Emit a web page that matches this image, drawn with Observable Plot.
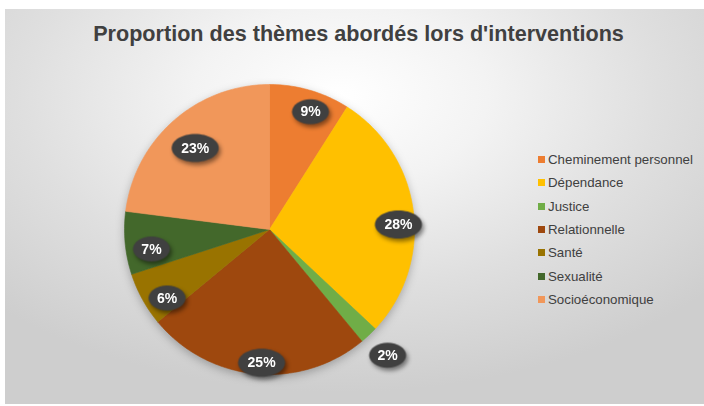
<!DOCTYPE html>
<html>
<head>
<meta charset="utf-8">
<script src="https://cdn.jsdelivr.net/npm/d3@7"></script>
<script src="https://cdn.jsdelivr.net/npm/@observablehq/plot@0.6"></script>
<style>
  html, body { margin: 0; padding: 0; background: #ffffff; overflow: hidden; }
  #root { position: relative; width: 704px; height: 406px; }
  #bg { position: absolute; left: 5px; top: 9px; width: 699px; height: 395px;
        background: radial-gradient(ellipse 70% 75% at 48% 22%, #ffffff 0%, #f3f3f3 30%, #dfdfdf 65%, #cecece 100%); }
  #title { position: absolute; left: 9px; top: 21px; width: 699px; text-align: center;
           font-family: "Liberation Sans", Arial, sans-serif; font-weight: bold; font-size: 21.6px; color: #404040; }
  #pie { position: absolute; left: 69px; top: 29px; }
  #pie svg { overflow: visible; }
  #pie g[aria-label="line"] { filter: drop-shadow(0px 3px 4px rgba(0,0,0,0.25)); }
  #pie g[aria-label="dot"] { filter: drop-shadow(2px 3px 2px rgba(0,0,0,0.45)); }
  #legend { position: absolute; left: 538px; top: 148px; }
  #legend div[class$="-swatch"] { height: 23.3px; padding: 0; display: flex; align-items: center; }
  #legend div[class$="-swatch"] > svg { margin-right: 3px; }
</style>
</head>
<body>
<div id="root">
  <div id="bg"></div>
  <div id="title">Proportion des thèmes abordés lors d'interventions</div>
  <div id="pie"></div>
  <div id="legend"></div>
</div>
<script>
// Data
const themes = ["Cheminement personnel", "Dépendance", "Justice", "Relationnelle", "Santé", "Sexualité", "Socioéconomique"];
const values = [9, 28, 2, 25, 6, 7, 23];
const labels = ["9%", "28%", "2%", "25%", "6%", "7%", "23%"];
const colors = ["#ED7D31", "#FFC000", "#70AD47", "#9E480E", "#997300", "#43682B", "#F1975A"];
// placement of each data callout: fraction of the pie radius, and angular nudge (degrees) from the slice middle
const labelRadius = [0.86, 0.89, 1.19, 0.92, 0.85, 0.825, 0.76];
const labelNudge = [3, 5, 0, -2, -5, -4, -1];

// Slice geometry (angles clockwise from the top)
const total = d3.sum(values);
const slices = [];
let acc = 0;
themes.forEach((t, i) => {
  const a0 = acc / total * 2 * Math.PI;
  acc += values[i];
  const a1 = acc / total * 2 * Math.PI;
  slices.push({theme: t, value: values[i], label: labels[i], a0, a1,
    mid: (a0 + a1) / 2 + labelNudge[i] * Math.PI / 180, lr: labelRadius[i]});
});

const outline = [];
for (const s of slices) {
  outline.push({theme: s.theme, x: 0, y: 0});
  const n = Math.max(2, Math.ceil((s.a1 - s.a0) / (Math.PI / 180)));
  for (let k = 0; k <= n; ++k) {
    const a = s.a0 + (s.a1 - s.a0) * k / n;
    outline.push({theme: s.theme, x: Math.sin(a), y: Math.cos(a)});
  }
  outline.push({theme: s.theme, x: 0, y: 0});
}

const labelPts = slices.map(s => ({
  label: s.label,
  x: s.lr * Math.sin(s.mid),
  y: s.lr * Math.cos(s.mid),
  kind: s.label.length > 2 ? "wide" : "narrow"
}));

function ellipseSymbol(rx, ry) {
  const k = 0.5522847;
  return {
    draw(ctx) {
      ctx.moveTo(rx, 0);
      ctx.bezierCurveTo(rx, ry * k, rx * k, ry, 0, ry);
      ctx.bezierCurveTo(-rx * k, ry, -rx, ry * k, -rx, 0);
      ctx.bezierCurveTo(-rx, -ry * k, -rx * k, -ry, 0, -ry);
      ctx.bezierCurveTo(rx * k, -ry, rx, -ry * k, rx, 0);
      ctx.closePath();
    }
  };
}

const R = 145;      // pie radius in px
const S = 400;      // svg size
const dom = S / 2 / R;

const pie = Plot.plot({
  width: S, height: S, margin: 0,
  x: {domain: [-dom, dom], axis: null},
  y: {domain: [-dom, dom], axis: null},
  color: {domain: themes, range: colors},
  symbol: {domain: ["narrow", "wide"], range: [ellipseSymbol(18.5, 12.5), ellipseSymbol(23.5, 14)]},
  style: {background: "transparent"},
  marks: [
    Plot.line(outline, {x: "x", y: "y", z: "theme", fill: "theme", stroke: "theme", strokeWidth: 0.6, curve: "linear"}),
    Plot.dot(labelPts, {x: "x", y: "y", symbol: "kind", fill: "#404040", stroke: "none"}),
    Plot.text(labelPts, {x: "x", y: "y", text: "label", fill: "#ffffff", fontSize: 14, fontWeight: "bold",
      fontFamily: "Liberation Sans, Arial, sans-serif"})
  ]
});
document.getElementById("pie").appendChild(pie);

const legend = Plot.legend({
  color: {type: "ordinal", domain: themes, range: colors},
  legend: "swatches",
  columns: 1,
  swatchSize: 7,
  style: {fontFamily: "Liberation Sans, Arial, sans-serif", fontSize: "13.3px", color: "#404040", background: "transparent"}
});
document.getElementById("legend").appendChild(legend);
</script>
</body>
</html>
